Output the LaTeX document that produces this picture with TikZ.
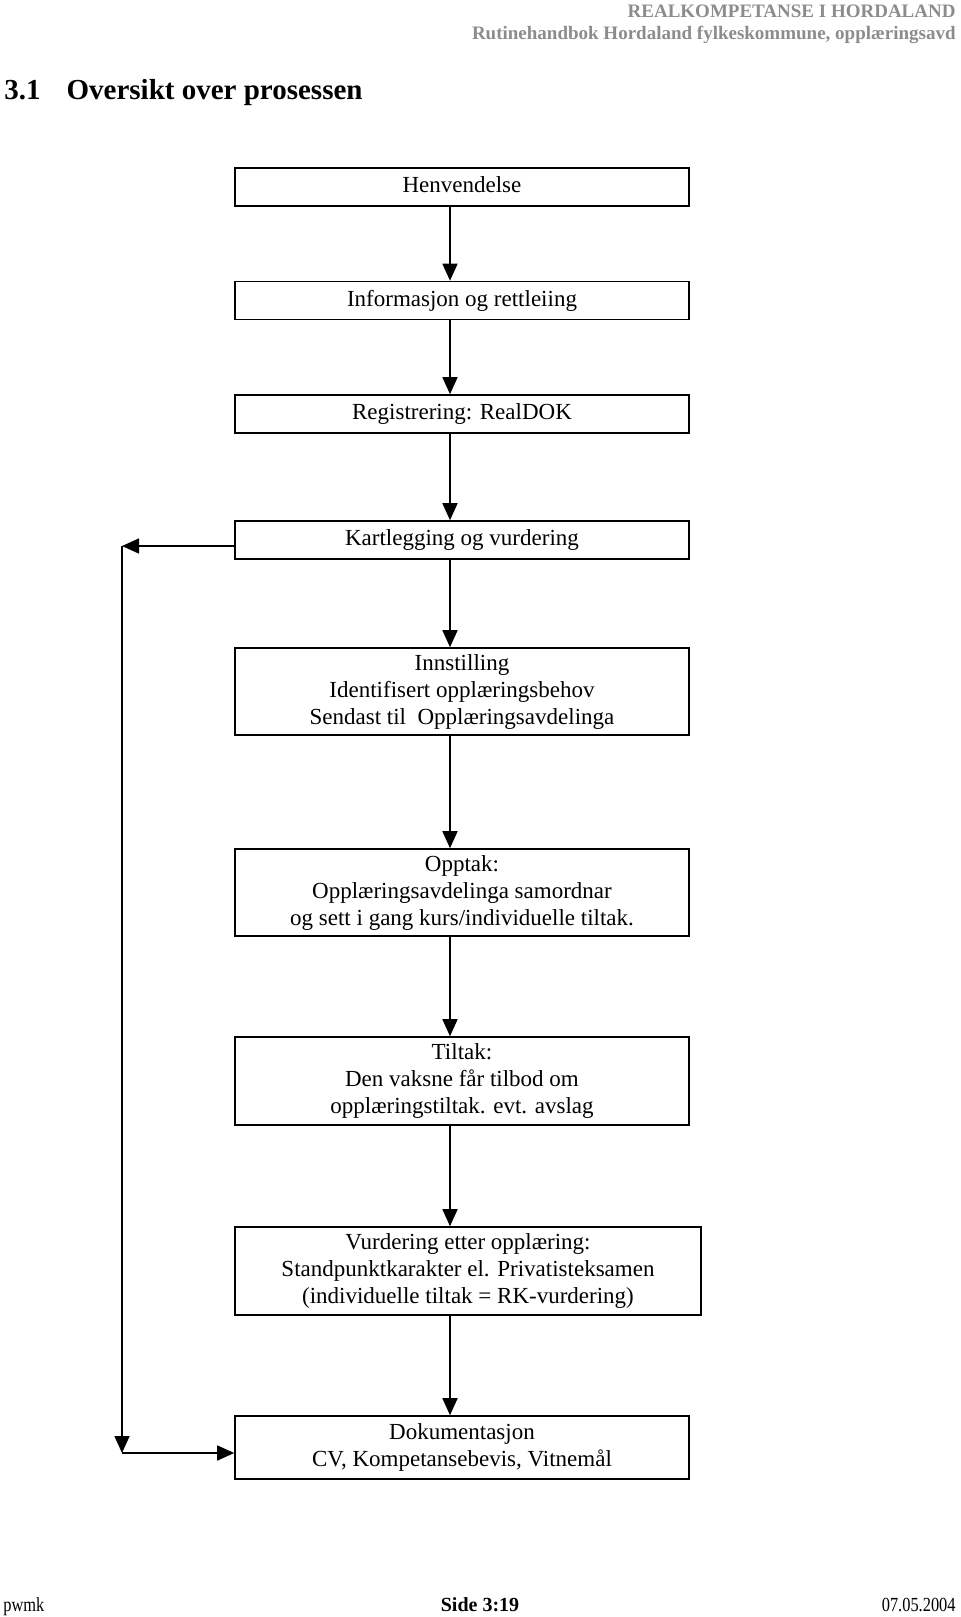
\documentclass[tikz,border=0pt]{standalone}
\usepackage{fontspec}
\setmainfont{Liberation Serif}
\newfontfamily\footfont[FakeStretch=0.82]{Liberation Serif}
\usetikzlibrary{arrows.meta}

\begin{document}
\begin{tikzpicture}[x=0.5pt, y=-0.5pt,
    every node/.style={inner sep=0pt},
    stage/.style={draw, line width=0.8pt, minimum width=227pt, minimum height=19pt,
                  text depth=2.2pt, align=center, font=\fontsize{11.5}{13.4}\selectfont},
    head/.style={text=black!45, font=\fontsize{9.5}{11}\selectfont\bfseries},
    foot/.style={font=\footfont\fontsize{10}{12}\selectfont},
    ]
\useasboundingbox (0,0) rectangle (960,1617);

% page header
\node[head, anchor=base east] (head1) at (956,17) {REALKOMPETANSE I HORDALAND};
\node[head, anchor=base east] (head2) at (956,39) {Rutinehandbok Hordaland fylkeskommune, opplæringsavd};
\node[anchor=base west, font=\fontsize{14.5}{17}\selectfont\bfseries] (title) at (4,99)
     {3.1\hspace{13pt}Oversikt over prosessen};

% the steps
\node[stage]                      (henv)   at (462,187)    {Henvendelse};
\node[stage]                      (info)   at (462,300.5)  {Informasjon og rettleiing};
\node[stage]                      (reg)    at (462,414)    {Registrering: RealDOK};
\node[stage]                      (kart)   at (462,540)    {Kartlegging og vurdering};
\node[stage, minimum height=43.5pt] (innst)  at (462,691.5)
     {Innstilling\\Identifisert opplæringsbehov\\Sendast til\ \ Opplæringsavdelinga};
\node[stage, minimum height=43.5pt] (opptak) at (462,892.5)
     {Opptak:\\Opplæringsavdelinga samordnar\\og sett i gang kurs/individuelle tiltak.};
\node[stage, minimum height=44pt]   (tiltak) at (462,1081)
     {Tiltak:\\Den vaksne får tilbod om\\opplæringstiltak. evt. avslag};
\node[stage, minimum height=44pt, minimum width=233pt] (vurd) at (468,1271)
     {Vurdering etter opplæring:\\Standpunktkarakter el. Privatisteksamen\\(individuelle tiltak = RK-vurdering)};
\node[stage, minimum height=31.5pt] (dok)    at (462,1447.5)
     {Dokumentasjon\\CV, Kompetansebevis, Vitnemål};

\coordinate (ax) at (450,0);
\coordinate (lt) at (122,546);
\coordinate (lb) at (122,1453);

\draw[
    line width=0.8pt,
    >={Triangle[width=7.5pt,length=8.5pt]},
    every edge/.append style={->},
    ]
     (henv.south -| ax)   edge (info.north -| ax)
     (info.south -| ax)   edge (reg.north -| ax)
     (reg.south -| ax)    edge (kart.north -| ax)
     (kart.south -| ax)   edge (innst.north -| ax)
     (innst.south -| ax)  edge (opptak.north -| ax)
     (opptak.south -| ax) edge (tiltak.north -| ax)
     (tiltak.south -| ax) edge (vurd.north -| ax)
     (vurd.south -| ax)   edge (dok.north -| ax)
     % way back round on the left
     (kart.west |- lt)    edge (lt)
     (lt)                 edge (lb)
     (lb)                 edge (dok.west |- lb);

% page footer
\node[foot, anchor=base west]          (user) at (3,1611)   {pwmk};
\node[foot, anchor=base, font=\bfseries] (side) at (480,1611) {Side 3:19};
\node[foot, anchor=base east]          (date) at (956,1611) {07.05.2004};
\end{tikzpicture}
\end{document}
